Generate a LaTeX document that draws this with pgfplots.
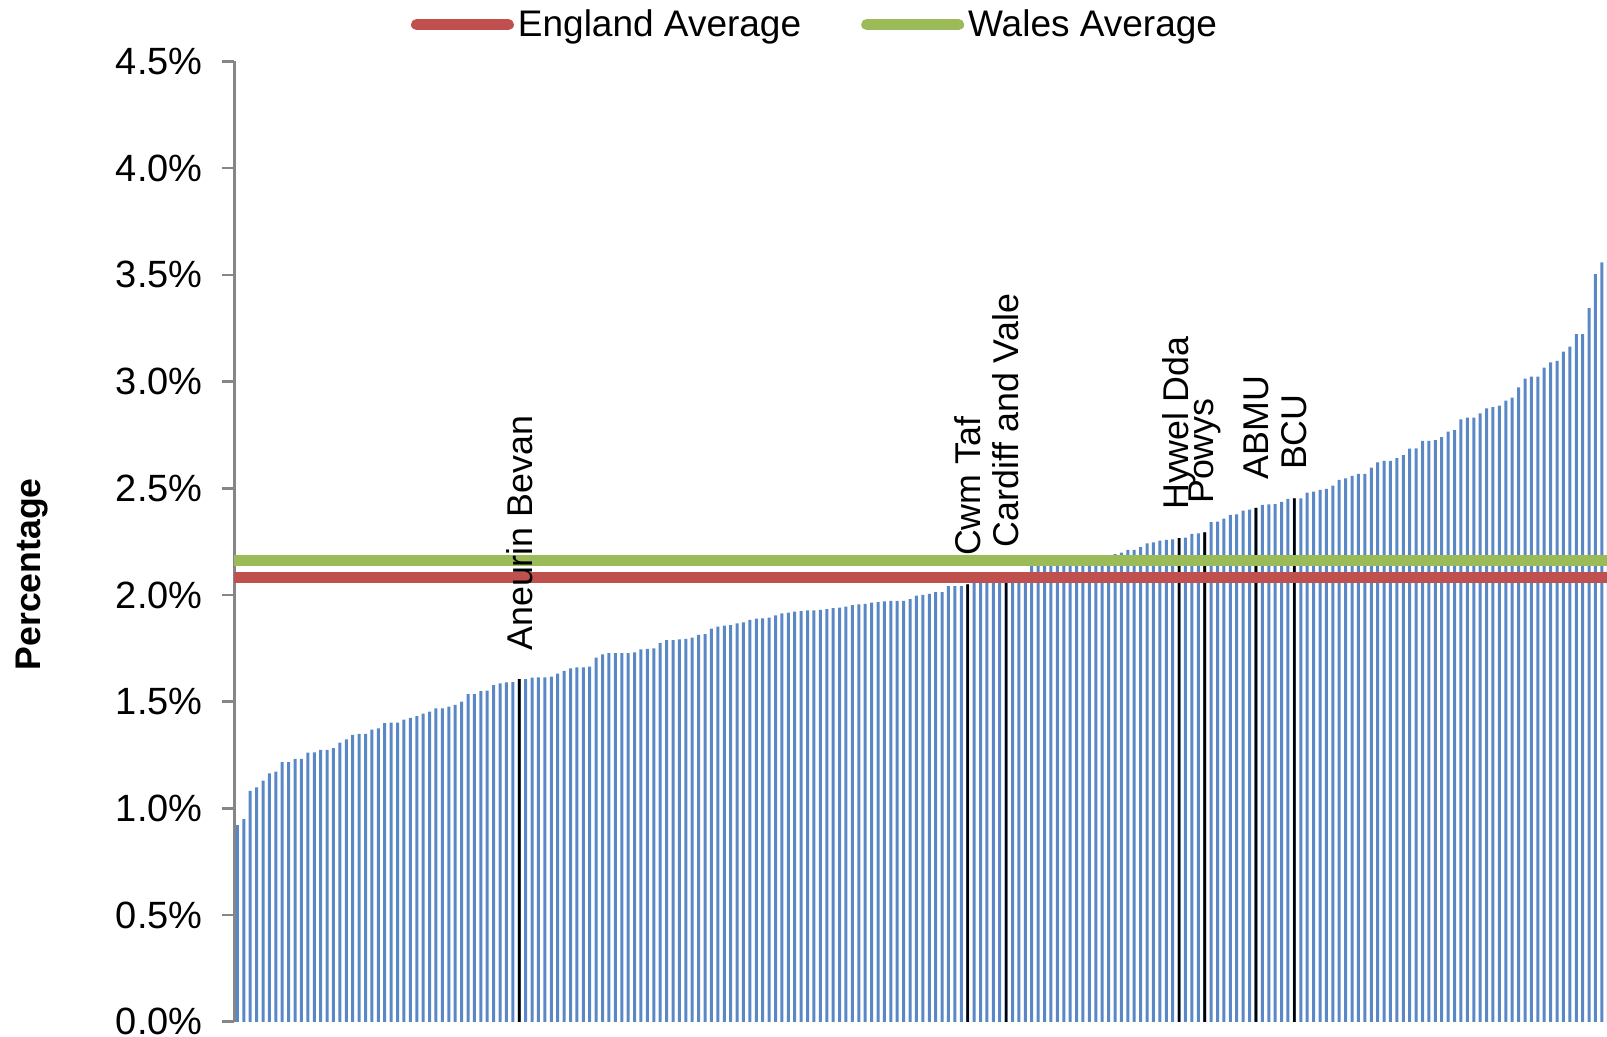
\documentclass[border=0pt]{standalone}
\usepackage{pgfplots}
\pgfplotsset{compat=1.18}
\usepackage{pgfplotstable}
\usepackage{fontspec}
\setmainfont{Liberation Sans}
\definecolor{barblue}{RGB}{90,135,198}
\definecolor{engred}{RGB}{192,80,77}
\definecolor{walgreen}{RGB}{155,187,89}
\definecolor{axgray}{RGB}{134,134,134}

\pgfplotstableread{
x y
0 0.922
1 0.950
2 1.082
3 1.099
4 1.130
5 1.164
6 1.172
7 1.217
8 1.217
9 1.232
10 1.232
11 1.261
12 1.263
13 1.274
14 1.274
15 1.282
16 1.308
17 1.324
18 1.344
19 1.349
20 1.349
21 1.369
22 1.375
23 1.399
24 1.402
25 1.402
26 1.416
27 1.424
28 1.432
29 1.444
30 1.453
31 1.469
32 1.469
33 1.477
34 1.485
35 1.500
36 1.536
37 1.536
38 1.549
39 1.552
40 1.578
41 1.586
42 1.591
43 1.592
44 1.606
45 1.606
46 1.613
47 1.614
48 1.614
49 1.617
50 1.631
51 1.644
52 1.656
53 1.661
54 1.661
55 1.664
56 1.706
57 1.722
58 1.728
59 1.728
60 1.728
61 1.728
62 1.731
63 1.745
64 1.748
65 1.750
66 1.776
67 1.789
68 1.789
69 1.792
70 1.794
71 1.800
72 1.813
73 1.817
74 1.842
75 1.852
76 1.856
77 1.859
78 1.867
79 1.872
80 1.883
81 1.889
82 1.891
83 1.894
84 1.905
85 1.914
86 1.917
87 1.922
88 1.924
89 1.928
90 1.928
91 1.930
92 1.934
93 1.939
94 1.941
95 1.945
96 1.952
97 1.956
98 1.958
99 1.964
100 1.966
101 1.970
102 1.973
103 1.973
104 1.973
105 1.981
106 1.997
107 2.001
108 2.005
109 2.013
110 2.013
111 2.042
112 2.042
113 2.042
114 2.050
115 2.060
116 2.068
117 2.072
118 2.078
119 2.082
120 2.090
121 2.094
122 2.100
123 2.105
124 2.138
125 2.142
126 2.148
127 2.150
128 2.152
129 2.158
130 2.162
131 2.166
132 2.170
133 2.172
134 2.178
135 2.182
136 2.186
137 2.192
138 2.199
139 2.211
140 2.211
141 2.224
142 2.242
143 2.247
144 2.255
145 2.258
146 2.261
147 2.266
148 2.269
149 2.286
150 2.289
151 2.294
152 2.341
153 2.344
154 2.358
155 2.375
156 2.378
157 2.395
158 2.400
159 2.408
160 2.422
161 2.425
162 2.426
163 2.436
164 2.450
165 2.453
166 2.453
167 2.480
168 2.484
169 2.492
170 2.497
171 2.512
172 2.539
173 2.547
174 2.558
175 2.567
176 2.567
177 2.597
178 2.622
179 2.628
180 2.628
181 2.641
182 2.656
183 2.686
184 2.687
185 2.722
186 2.722
187 2.726
188 2.740
189 2.765
190 2.772
191 2.823
192 2.831
193 2.831
194 2.851
195 2.875
196 2.880
197 2.887
198 2.911
199 2.925
200 2.973
201 3.014
202 3.023
203 3.023
204 3.065
205 3.090
206 3.097
207 3.140
208 3.164
209 3.222
210 3.222
211 3.344
212 3.504
213 3.559
214 3.570
}\bardata

\pgfplotstableread[col sep=comma]{
x,y,label
44,1.606,Aneurin Bevan
114,2.050,Cwm Taf
120,2.090,Cardiff and Vale
147,2.266,Hywel Dda
151,2.294,Powys
159,2.408,ABMU
165,2.453,BCU
}\blackdata

\begin{document}
\begin{tikzpicture}
\begin{axis}[
  at={(0pt,0pt)}, anchor=south west,
  scale only axis,
  width=686.4pt, height=480.15pt,
  xmin=-0.5, xmax=213.8,
  ymin=0, ymax=4.5,
  axis x line=none,
  axis y line*=left,
  axis line style={-, axgray, line width=1.5pt},
  ytick={0,0.5,1,1.5,2,2.5,3,3.5,4,4.5},
  tick align=outside,
  major tick length=6pt,
  ytick style={axgray, line width=1.3pt},
  /pgf/number format/assume math mode=true,
  yticklabel={\pgfmathprintnumber[fixed,fixed zerofill,precision=1]{\tick}\%},
  yticklabel style={font=\fontsize{19}{21}\selectfont, inner xsep=0pt, inner ysep=0pt, xshift=-9.6pt},
  ylabel={Percentage},
  ylabel style={at={(axis description cs:-0.147,0.466)}, anchor=center, font=\bfseries\fontsize{17.8}{20}\selectfont},
  legend style={at={(axis description cs:0.4238,1.0384)}, anchor=center, draw=none, fill=none,
    font=\fontsize{18.5}{20}\selectfont, inner sep=0pt,
    /tikz/every even column/.append style={column sep=28pt}},
  legend columns=2,
  legend image code/.code={\draw[#1, line cap=round] (0pt,0pt) -- (46pt,0pt);},
  clip=true,
]
\addplot[ybar, bar width=1.5pt, bar shift=0pt, fill=barblue, draw=none, forget plot] table[x=x,y=y]{\bardata};
\addplot[ybar, bar width=1.3pt, bar shift=0pt, fill=black, draw=none, forget plot] table[x=x,y=y]{\blackdata};
\addplot[engred, line width=5.5pt] coordinates {(-0.5,2.084) (213.8,2.084)};
\addlegendentry{England Average}
\addplot[walgreen, line width=5.5pt] coordinates {(-0.5,2.162) (213.8,2.162)};
\addlegendentry{Wales Average}
\addplot[only marks, mark=none, forget plot, nodes near coords, point meta=explicit symbolic,
  nodes near coords style={rotate=90, anchor=west, text=black, inner xsep=14pt, inner ysep=0pt,
  font=\fontsize{17.9}{20}\selectfont}]
  table[x=x,y=y,meta=label]{\blackdata};
\end{axis}
\pgfresetboundingbox
\path[use as bounding box] (-117.1pt,-7.6pt) rectangle (686.4pt,510.9pt);
\end{tikzpicture}
\end{document}
